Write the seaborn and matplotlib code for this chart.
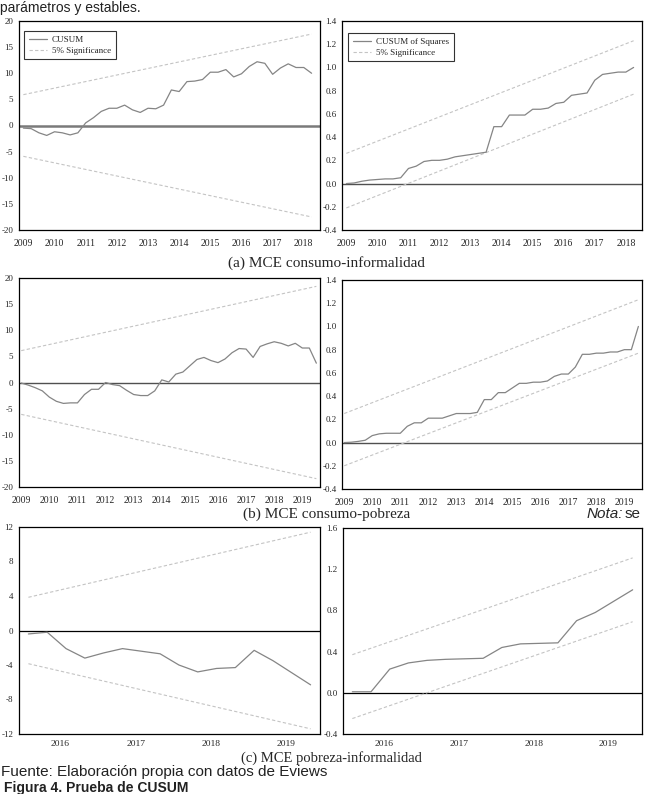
import numpy as np
import pandas as pd
import matplotlib
matplotlib.use("Agg")
import matplotlib.pyplot as plt
import seaborn as sns
from matplotlib.ticker import MultipleLocator, FixedLocator

# ---------------- data ----------------
# (a) MCE consumo-informalidad, quarterly from 2009Q1
cusum_a = [-0.5, -0.6, -1.4, -1.9, -1.2, -1.4, -1.8, -1.4, 0.5, 1.5,
           2.7, 3.3, 3.3, 3.9, 3.0, 2.5, 3.3, 3.2, 3.9, 6.8,
           6.5, 8.4, 8.5, 8.8, 10.2, 10.2, 10.7, 9.3, 9.9, 11.3,
           12.2, 11.9, 9.8, 11.0, 11.8, 11.1, 11.1, 10.0]
cusumsq_a = [0.0, 0.005, 0.02, 0.03, 0.035, 0.04, 0.04, 0.05, 0.13, 0.15,
             0.19, 0.20, 0.20, 0.21, 0.23, 0.24, 0.25, 0.26, 0.27, 0.49,
             0.49, 0.59, 0.59, 0.59, 0.64, 0.64, 0.65, 0.69, 0.70, 0.76,
             0.77, 0.78, 0.89, 0.94, 0.95, 0.96, 0.96, 1.0]
sig_cusum_a = [5.9, 17.5]           # +/- bound at first and last observation
sig_sq_a_upper = [0.26, 1.23]
sig_sq_a_lower = [-0.21, 0.77]

# (b) MCE consumo-pobreza, quarterly from 2009Q1
cusum_b = [-0.1, -0.5, -1.0, -1.6, -2.8, -3.6, -4.0, -3.9, -3.9, -2.3,
           -1.3, -1.3, 0.0, -0.4, -0.6, -1.5, -2.3, -2.5, -2.5, -1.6,
           0.5, 0.1, 1.6, 2.0, 3.2, 4.4, 4.8, 4.2, 3.8, 4.5,
           5.7, 6.5, 6.4, 4.8, 6.9, 7.4, 7.8, 7.5, 7.0, 7.5,
           6.6, 6.6, 3.7]
cusumsq_b = [0.0, 0.003, 0.01, 0.02, 0.06, 0.075, 0.08, 0.08, 0.08, 0.14,
             0.17, 0.17, 0.21, 0.21, 0.21, 0.23, 0.25, 0.25, 0.25, 0.26,
             0.37, 0.37, 0.43, 0.43, 0.47, 0.51, 0.51, 0.52, 0.52, 0.53,
             0.57, 0.59, 0.59, 0.65, 0.76, 0.76, 0.77, 0.77, 0.78, 0.78,
             0.80, 0.80, 1.0]
sig_cusum_b = [6.1, 18.4]
sig_sq_b_upper = [0.25, 1.23]
sig_sq_b_lower = [-0.20, 0.77]

# (c) MCE pobreza-informalidad, quarterly 2016Q1-2019Q4
cusum_c = [-0.4, -0.2, -2.1, -3.2, -2.6, -2.1, -2.4, -2.7, -4.0, -4.8,
           -4.4, -4.3, -2.3, -3.5, -4.9, -6.3]
cusumsq_c = [0.01, 0.01, 0.23, 0.29, 0.315, 0.325, 0.33, 0.335, 0.44, 0.475,
             0.48, 0.485, 0.70, 0.78, 0.89, 1.0]
sig_cusum_c = [3.85, 11.4]
sig_sq_c_upper = [0.37, 1.31]
sig_sq_c_lower = [-0.25, 0.69]

years_ab_a = list(range(2009, 2019))
years_ab_b = list(range(2009, 2020))
years_c = [2016, 2017, 2018, 2019]

# ---------------- style ----------------
sns.set_style("white")
plt.rcParams['font.family'] = ['Liberation Serif', 'DejaVu Serif']

W, H = 648, 794
fig = plt.figure(figsize=(W / 100, H / 100), dpi=100)

LINE_C = '#858585'
SIG_C = '#c4c4c4'


def add_ax(l, t, r, b):
    return fig.add_axes([l / W, 1 - b / H, (r - l) / W, (b - t) / H])


def style_ax(ax, ylim, ystep, yfmt, xlim, xmajor, xlabels, xminor):
    ax.set_xlim(*xlim)
    ax.set_ylim(*ylim)
    ax.yaxis.set_major_locator(MultipleLocator(ystep))
    ax.yaxis.set_major_formatter(matplotlib.ticker.FormatStrFormatter(yfmt))
    ax.xaxis.set_major_locator(FixedLocator(xmajor))
    ax.set_xticklabels(xlabels)
    ax.xaxis.set_minor_locator(FixedLocator(xminor))
    ax.tick_params(axis='both', which='both', direction='out', width=0.6,
                   color='black')
    ax.tick_params(axis='y', which='major', length=3, pad=1, labelsize=6.5)
    ax.tick_params(axis='x', which='major', length=3.5, pad=3, labelsize=7)
    ax.tick_params(axis='x', which='minor', length=3)
    ax.tick_params(axis='y', which='minor', length=0)
    for s in ax.spines.values():
        s.set_color('black')
        s.set_linewidth(0.9)
    ax.set_xlabel('')
    ax.set_ylabel('')


def plot_panel(ax, x, y, upper, lower, main_label=None, zero_c='#505050',
               zero_lw=1.0):
    ax.axhline(0, color=zero_c, lw=zero_lw, zorder=1)
    sns.lineplot(x=x, y=y, ax=ax, color=LINE_C, lw=0.9, legend=False,
                 label=main_label, zorder=3)
    xe = [x[0], x[-1]]
    sns.lineplot(x=xe, y=upper, ax=ax, color=SIG_C, lw=0.8,
                 linestyle=(0, (3, 2)), legend=False,
                 label='5% Significance' if main_label else None, zorder=2)
    sns.lineplot(x=xe, y=lower, ax=ax, color=SIG_C, lw=0.8,
                 linestyle=(0, (3, 2)), legend=False, zorder=2)


def add_legend(ax, anchor):
    leg = ax.legend(loc='upper left', bbox_to_anchor=anchor, borderaxespad=0,
                    frameon=True, fancybox=False, fontsize=6.5,
                    handlelength=2.0, handletextpad=0.6, labelspacing=0.3,
                    borderpad=0.5)
    leg.get_frame().set_edgecolor('black')
    leg.get_frame().set_linewidth(0.8)


# x positions (dates as fractional years)
xa = [2009 + k / 4 for k in range(len(cusum_a))]
xb = [2009 + k / 4 for k in range(len(cusum_b))]
xc = [2016 + (k + 0.5) / 4 for k in range(len(cusum_c))]

minor_a = [2009 + k / 4 for k in range(-1, 40)]
minor_b = [2009 + k / 4 for k in range(-1, 45)]
minor_c = [2016 + k / 4 for k in range(0, 17)]

# ---- (a) ----
ax1 = add_ax(19, 21, 320, 230)
plot_panel(ax1, xa, cusum_a, sig_cusum_a, [-v for v in sig_cusum_a],
           main_label='CUSUM', zero_c='#7a7a7a', zero_lw=1.8)
style_ax(ax1, (-20, 20), 5, '%d', (2008.86, 2018.52), years_ab_a,
         [str(y) for y in years_ab_a], minor_a)
add_legend(ax1, (0.017, 0.952))

ax2 = add_ax(342, 21, 642, 230)
plot_panel(ax2, xa, cusumsq_a, sig_sq_a_upper, sig_sq_a_lower,
           main_label='CUSUM of Squares')
style_ax(ax2, (-0.4, 1.4), 0.2, '%.1f', (2008.86, 2018.52), years_ab_a,
         [str(y) for y in years_ab_a], minor_a)
add_legend(ax2, (0.02, 0.943))

# ---- (b) ----
ax3 = add_ax(19, 278, 320, 487)
plot_panel(ax3, xb, cusum_b, sig_cusum_b, [-v for v in sig_cusum_b])
style_ax(ax3, (-20, 20), 5, '%d', (2008.92, 2019.63), years_ab_b,
         [str(y) for y in years_ab_b], minor_b)

ax4 = add_ax(342, 280, 642, 489)
plot_panel(ax4, xb, cusumsq_b, sig_sq_b_upper, sig_sq_b_lower)
style_ax(ax4, (-0.4, 1.4), 0.2, '%.1f', (2008.92, 2019.63), years_ab_b,
         [str(y) for y in years_ab_b], minor_b)

# ---- (c) ----
ax5 = add_ax(19, 527, 320, 734)
plot_panel(ax5, xc, cusum_c, sig_cusum_c, [-v for v in sig_cusum_c],
           zero_c='black', zero_lw=0.9)
style_ax(ax5, (-12, 12), 4, '%d', (2016.0, 2020.0),
         [y + 0.55 for y in years_c], [str(y) for y in years_c], minor_c)
ax5.tick_params(axis='x', which='major', length=0, pad=4, labelsize=6.8)

ax6 = add_ax(343, 528, 642, 734)
plot_panel(ax6, xc, cusumsq_c, sig_sq_c_upper, sig_sq_c_lower,
           zero_c='black', zero_lw=0.9)
style_ax(ax6, (-0.4, 1.6), 0.4, '%.1f', (2016.0, 2020.0),
         [y + 0.55 for y in years_c], [str(y) for y in years_c], minor_c)
ax6.tick_params(axis='x', which='major', length=0, pad=4, labelsize=6.8)

# ---------------- document text ----------------
serif = ['Liberation Serif', 'DejaVu Serif']
sans = ['Liberation Sans', 'DejaVu Sans']

fig.text(0 / W, 1 - 1 / H, 'parámetros y estables.', family=sans,
         fontsize=10, va='top', ha='left', color='#222222')
fig.text(326 / W, 1 - 263 / H, '(a) MCE consumo-informalidad', family=serif,
         fontsize=11, ha='center', va='center')
fig.text(327 / W, 1 - 514 / H, '(b) MCE consumo-pobreza', family=serif,
         fontsize=11, ha='center', va='center')
fig.text(587 / W, 1 - 514 / H, 'Nota:', family=sans, style='italic',
         fontsize=11, ha='left', va='center')
fig.text(625 / W, 1 - 514 / H, 'se', family=sans,
         fontsize=11, ha='left', va='center')
fig.text(331 / W, 1 - 758 / H, '(c) MCE pobreza-informalidad', family=serif,
         fontsize=10.5, ha='center', va='center')
fig.text(1 / W, 1 - 772 / H, 'Fuente: Elaboración propia con datos de Eviews',
         family=sans, fontsize=11, ha='left', va='center', color='#222222')
fig.text(4 / W, 1 - 792 / H, 'Figura 4. Prueba de CUSUM', family=sans,
         fontsize=10, weight='bold', ha='left', va='baseline',
         color='#222222')

fig.savefig('out.png', dpi=100)
